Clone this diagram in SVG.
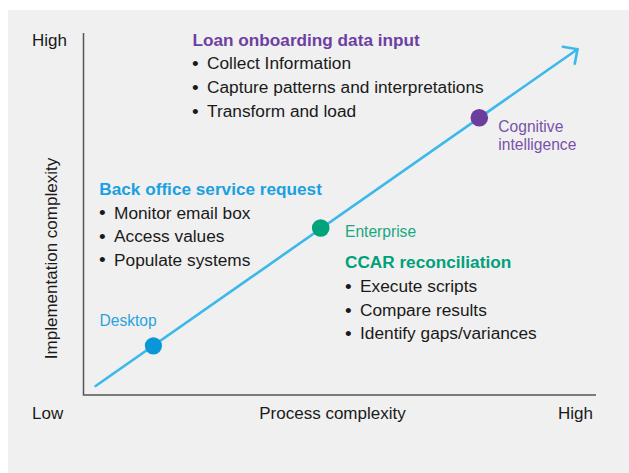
<svg xmlns="http://www.w3.org/2000/svg" width="629" height="473" viewBox="0 0 629 473">
  <defs>
    <style>
      text { font-family: "Liberation Sans", Arial, Helvetica, sans-serif; }
      .axis-label { font-size: 17px; fill: #1a1a1a; }
      .head { font-size: 17.2px; font-weight: bold; }
      .item { font-size: 17.3px; fill: #1a1a1a; }
      .bullet { font-size: 19px; fill: #1a1a1a; }
      .node-label { font-size: 15.6px; }
      .axis { stroke: #555555; stroke-width: 1.5; fill: none; }
      .trend { stroke: #3cb8ea; stroke-width: 2.6; fill: none; stroke-linecap: round; }
    </style>
    <marker id="chevron" markerUnits="userSpaceOnUse" markerWidth="30" markerHeight="30" viewBox="-15 -15 30 30" refX="0" refY="0" orient="auto">
      <path d="M-10.6,-10.4 L0,0 L-10.6,10.4" fill="none" stroke="#3cb8ea" stroke-width="2.6" stroke-linecap="round" stroke-linejoin="round"/>
    </marker>
  </defs>

  <rect x="0" y="0" width="629" height="473" fill="#ffffff"/>
  <rect x="8" y="10" width="621" height="463" fill="#f0f0f0"/>

  <g id="axes">
    <polyline class="axis" points="83.5,33 83.5,395 596,395"/>
    <text class="axis-label" x="32" y="46">High</text>
    <text class="axis-label" x="32" y="419">Low</text>
    <text class="axis-label" x="593" y="419" text-anchor="end">High</text>
    <text class="axis-label" x="332.5" y="419" text-anchor="middle">Process complexity</text>
    <text class="axis-label" transform="translate(57,258.5) rotate(-90)" text-anchor="middle" font-size="16.6">Implementation complexity</text>
  </g>

  <g id="connectors">
    <line class="trend" x1="95.6" y1="386" x2="577.5" y2="49.2" marker-end="url(#chevron)"/>
  </g>

  <g id="desktop">
    <circle cx="153.4" cy="345.8" r="8.6" fill="#0a97d9"/>
    <text class="node-label" x="99.5" y="326" fill="#2aa3de">Desktop</text>
  </g>

  <g id="enterprise">
    <circle cx="320.7" cy="228" r="8.8" fill="#00a37a"/>
    <text class="node-label" x="345" y="236.7" fill="#19a87f">Enterprise</text>
  </g>

  <g id="cognitive">
    <circle cx="479.3" cy="117.7" r="8.8" fill="#6b3e9e"/>
    <text class="node-label" x="498.3" y="132.3" fill="#7a52aa">Cognitive</text>
    <text class="node-label" x="498.3" y="150.2" fill="#7a52aa">intelligence</text>
  </g>

  <g id="loan-onboarding">
    <text class="head" x="192.5" y="45.7" fill="#6e3fa3">Loan onboarding data input</text>
    <text class="bullet" x="192" y="70">•</text>
    <text class="item" x="207" y="69.4">Collect Information</text>
    <text class="bullet" x="192" y="93.9">•</text>
    <text class="item" x="207" y="93.3">Capture patterns and interpretations</text>
    <text class="bullet" x="192" y="117.8">•</text>
    <text class="item" x="207" y="117.2">Transform and load</text>
  </g>

  <g id="back-office">
    <text class="head" x="99.3" y="195" fill="#1aa0e0">Back office service request</text>
    <text class="bullet" x="99" y="219.2">•</text>
    <text class="item" x="114" y="218.6">Monitor email box</text>
    <text class="bullet" x="99" y="242.8">•</text>
    <text class="item" x="114" y="242.2">Access values</text>
    <text class="bullet" x="99" y="266.4">•</text>
    <text class="item" x="114" y="265.8">Populate systems</text>
  </g>

  <g id="ccar">
    <text class="head" x="345" y="268.4" fill="#00a07a">CCAR reconciliation</text>
    <text class="bullet" x="345" y="292.9">•</text>
    <text class="item" x="360" y="292.3">Execute scripts</text>
    <text class="bullet" x="345" y="316.5">•</text>
    <text class="item" x="360" y="315.9">Compare results</text>
    <text class="bullet" x="345" y="340">•</text>
    <text class="item" x="360" y="339.4">Identify gaps/variances</text>
  </g>
</svg>
